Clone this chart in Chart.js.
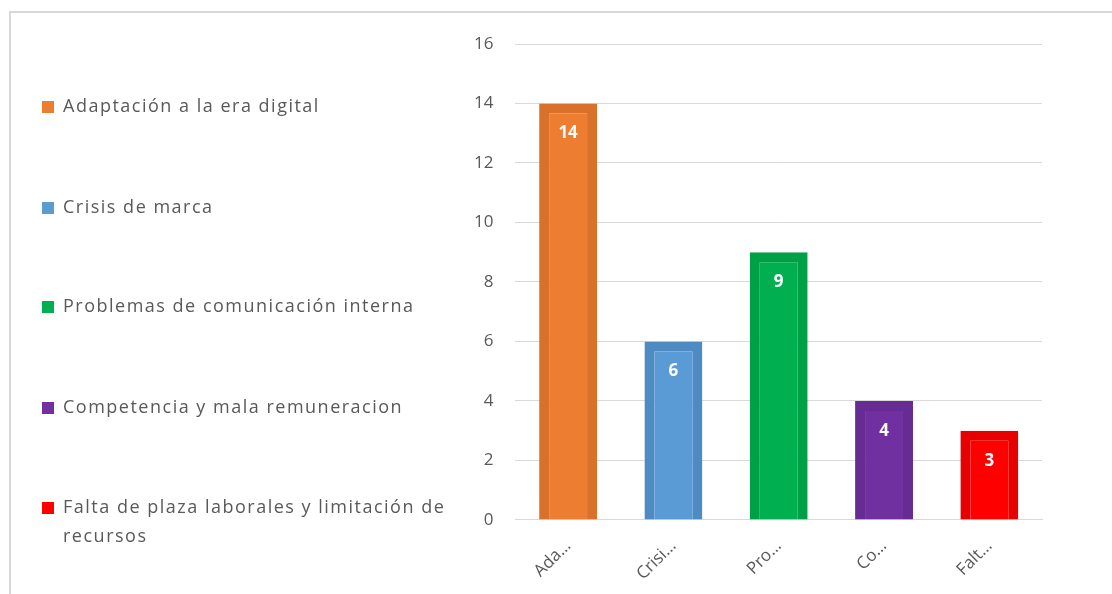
<!DOCTYPE html>
<html>
<head>
<meta charset="utf-8">
<script src="https://cdn.jsdelivr.net/npm/chart.js@4"></script>
<style>
  html, body { margin: 0; padding: 0; background: #fff; }
  #wrap { position: relative; width: 1112px; height: 594px; overflow: hidden; }
  #frame {
    position: absolute; left: 9px; top: 11px; width: 1200px; height: 700px;
    border-left: 2px solid #d9d9d9; border-top: 2px solid #d9d9d9;
  }
  #chart { position: absolute; left: 0; top: 0; }
  #legend {
    position: absolute; left: 42px; top: 0; width: 400px;
    font-family: "Open Sans", sans-serif; font-size: 18px; color: #595959;
    letter-spacing: 1.5px;
  }
  .item { position: absolute; left: 0; width: 404px; line-height: 29px; padding-left: 21px; text-indent: -21px; }
  .item .box {
    display: inline-block; width: 12px; height: 12px; margin-right: 9px;
    vertical-align: -1px;
  }
</style>
</head>
<body>
<div id="wrap">
  <div id="frame"></div>
  <canvas id="chart" width="1112" height="594"></canvas>
  <div id="legend"></div>
</div>
<script>
// categories and counts
const categories = [
    'Adaptación a la era digital',
    'Crisis de marca',
    'Problemas de comunicación interna',
    'Competencia y mala remuneracion',
    'Falta de plaza laborales y limitación de recursos'
];
const shortLabels = ['Ada…', 'Crisi…', 'Pro…', 'Co…', 'Falt…'];
const counts = [14, 6, 9, 4, 3];
const yTicks = [0, 2, 4, 6, 8, 10, 12, 14, 16];

const fillColors = ['#ED7D31', '#5B9BD5', '#00B050', '#7030A0', '#FF0000'];
const edgeColors = ['#D9712B', '#4F8BC3', '#00A146', '#662C93', '#E60000'];

// legend on the left, built as html so the long label can wrap
function buildLegend() {
    const legend = document.getElementById('legend');
    const tops = [91, 192, 291, 392, 492];
    categories.forEach((name, i) => {
        const div = document.createElement('div');
        div.className = 'item';
        div.style.top = tops[i] + 'px';
        div.innerHTML = '<span class="box" style="background:' + fillColors[i] + '"></span>' + name;
        legend.appendChild(div);
    });
}

// white value labels inside the top of each bar
const valueLabels = {
    id: 'valueLabels',
    afterDatasetsDraw(chart) {
        const ctx = chart.ctx;
        const meta = chart.getDatasetMeta(0);
        ctx.save();
        ctx.fillStyle = '#ffffff';
        ctx.font = 'bold 17px "Open Sans", sans-serif';
        ctx.textAlign = 'center';
        ctx.textBaseline = 'middle';
        meta.data.forEach((bar, i) => {
            ctx.fillText(String(counts[i]), bar.x, bar.y + 30);
        });
        ctx.restore();
    }
};

function renderChart() {
    const canvas = document.getElementById('chart');
    new Chart(canvas.getContext('2d'), {
        type: 'bar',
        data: {
            labels: categories,
            datasets: [{
                data: counts,
                backgroundColor: fillColors,
                borderColor: edgeColors,
                borderWidth: 10,
                borderSkipped: 'start',
                categoryPercentage: 1,
                barPercentage: 0.55
            }]
        },
        options: {
            responsive: false,
            animation: false,
            layout: { padding: { left: 452, top: 44, right: 70, bottom: 2 } },
            plugins: {
                legend: { display: false },
                tooltip: { enabled: false }
            },
            scales: {
                y: {
                    min: 0,
                    max: 16,
                    afterBuildTicks: axis => { axis.ticks = yTicks.map(v => ({ value: v })); },
                    grid: { color: '#d9d9d9', drawTicks: false },
                    border: { display: false },
                    ticks: {
                        padding: 22,
                        color: '#595959',
                        font: { family: '"Open Sans", sans-serif', size: 17 }
                    }
                },
                x: {
                    grid: { display: false },
                    border: { color: '#d9d9d9' },
                    ticks: {
                        minRotation: 45,
                        maxRotation: 45,
                        padding: 8,
                        color: '#595959',
                        font: { family: '"Open Sans", sans-serif', size: 17 },
                        callback: (value, index) => shortLabels[index]
                    }
                }
            }
        },
        plugins: [valueLabels]
    });
}

window.addEventListener('DOMContentLoaded', () => {
    buildLegend();
    renderChart();
});
</script>
</body>
</html>
